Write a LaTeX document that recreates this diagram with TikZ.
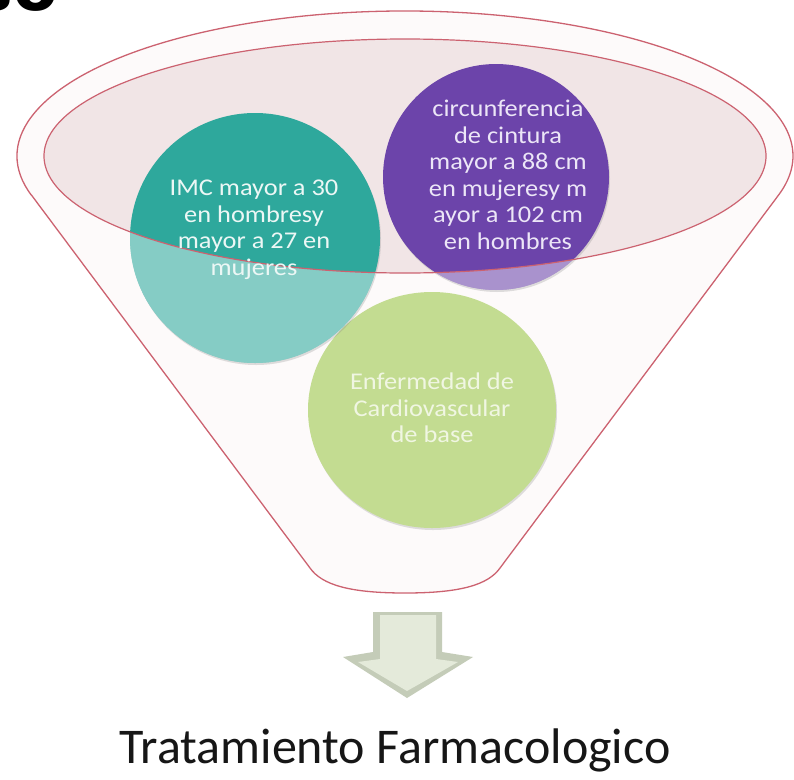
\documentclass[tikz,border=0pt]{standalone}
\usepackage{fontspec}
\setmainfont{Carlito}
\newfontfamily\bubblefont[FakeStretch=1.1]{Carlito}
\newfontfamily\headfont{DejaVu Sans}
\usetikzlibrary{shadows,shapes.geometric}

\definecolor{funnelred}{RGB}{204,98,112}
\definecolor{funnelfill}{RGB}{253,250,250}
\definecolor{ellfill}{RGB}{241,229,230}
\definecolor{tealc}{RGB}{46,168,156}
\definecolor{purplec}{RGB}{108,68,170}
\definecolor{greenc}{RGB}{195,220,145}
\definecolor{arrowface}{RGB}{228,234,218}
\definecolor{arrowedge}{RGB}{196,204,184}

\tikzset{
  bubble/.style={ellipse, draw=none, minimum width=#1, minimum height=#1, inner sep=0pt,
    drop shadow={opacity=.25, shadow xshift=1pt, shadow yshift=-2pt}},
  bubbletext/.style={align=center, inner sep=0pt,
    font=\bubblefont\fontsize{24}{26.5}\selectfont},
}

\begin{document}
\begin{tikzpicture}[x=1pt,y=-1pt]
  \useasboundingbox (0,0) rectangle (794,779);
  \fill[white] (0,0) rectangle (794,779);

  % heading cut off by the page edge
  \node[anchor=base east, inner sep=0pt,
    font=\headfont\bfseries\fontsize{65}{70}\selectfont] (head) at (58,10) {so};

  % funnel
  \draw[funnelred, line width=1.3pt, fill=funnelfill]
    (31.4,195) -- (310,568) .. controls (322,585) and (350,593) .. (405,593)
    .. controls (460,593) and (488,585) .. (500,568) -- (778.6,195)
    arc[start angle=15.6, end angle=-195.6, x radius=388, y radius=145] -- cycle;
  \fill[ellfill] (405,156) ellipse[x radius=361, y radius=117];

  % circles
  \node[bubble=248pt, minimum height=236pt, fill=greenc] (cardio) at (432,410) {};
  \node[bubble=250pt, fill=tealc]   (imc)     at (255,238) {};
  \node[bubble=226pt, fill=purplec] (cintura) at (496,177) {};

  \begin{scope}
    \clip (imc.center) circle[radius=125] (cintura.center) circle[radius=113];
    \fill[white, opacity=.42, even odd rule] (0,0) rectangle (794,779)
      (405,156) ellipse[x radius=361, y radius=117];
  \end{scope}
  \draw[funnelred, line width=1.2pt] (405,156) ellipse[x radius=361, y radius=117];

  % texts
  \node[bubbletext, text={rgb,255:red,236;green,247;blue,245}] (imctext) at (254,230)
    {IMC mayor a 30\\en hombresy\\mayor a 27 en\\mujeres};
  \node[bubbletext, text={rgb,255:red,236;green,230;blue,247}] (cinturatext) at (508,175)
    {circunferencia\\de cintura\\mayor a 88 cm\\en mujeresy m\\ayor a 102 cm\\en hombres};
  \node[bubbletext, text={rgb,255:red,240;green,246;blue,226}] (cardiotext) at (432,408)
    {Enfermedad de\\Cardiovascular\\de base};

  % arrow
  \fill[arrowedge] (373,612) -- (442,612) -- (442,652) -- (473,657) -- (407,698)
    -- (343,657) -- (373,652) -- cycle;
  \fill[arrowface] (380,615) -- (436,615) -- (436,659) -- (458,662) -- (407,691)
    -- (358,662) -- (380,659) -- cycle;

  \node[anchor=base, inner sep=0pt, text={rgb,255:red,22;green,22;blue,22},
    font=\fontsize{50}{60}\selectfont] (tratamiento) at (395,763)
    {Tratamiento Farmacologico};
\end{tikzpicture}
\end{document}
